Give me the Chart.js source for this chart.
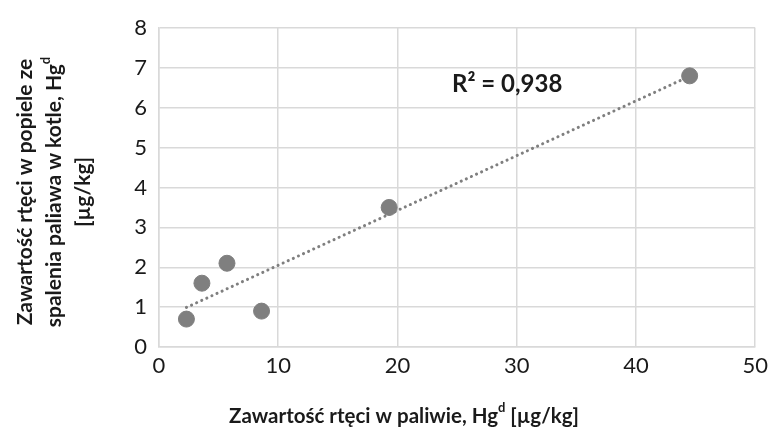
<!DOCTYPE html>
<html>
<head>
<meta charset="utf-8">
<script src="https://cdn.jsdelivr.net/npm/chart.js@4.4.0/dist/chart.umd.min.js"></script>
<style>
  html, body { margin: 0; padding: 0; background: #fff; }
  #wrap { width: 774px; height: 432px; }
</style>
</head>
<body>
<div id="wrap"><canvas id="myChart"></canvas></div>
<script>
// values
const hgFuel = [2.3, 3.6, 5.7, 8.6, 19.3, 44.5];   // x, µg/kg
const hgAsh = [0.7, 1.6, 2.1, 0.9, 3.5, 6.8];      // y, µg/kg
const xTicks = [0, 10, 20, 30, 40, 50];
const yTicks = [0, 1, 2, 3, 4, 5, 6, 7, 8];
const r2Label = 'R\u00B2 = 0,938';
const xTitle = [['Zawartość rtęci w paliwie, Hg', false], ['d', true], [' [µg/kg]', false]];
const yTitle = [
    [['Zawartość rtęci w popiele ze', false]],
    [['spalenia paliawa w kotle, Hg', false], ['d', true]],
    [['[µg/kg]', false]]
];

const FONT = 'Lato, "Open Sans", sans-serif';

// Excel-style linear trendline between min and max x
const fitLine = (xs, ys) => {
    const n = xs.length;
    const mx = xs.reduce((a, b) => a + b, 0) / n;
    const my = ys.reduce((a, b) => a + b, 0) / n;
    let sxy = 0, sxx = 0;
    xs.forEach((x, i) => { sxy += (x - mx) * (ys[i] - my); sxx += (x - mx) * (x - mx); });
    const k = sxy / sxx;
    const b = my - k * mx;
    const x0 = Math.min(...xs), x1 = Math.max(...xs);
    return [{ x: x0, y: k * x0 + b }, { x: x1, y: k * x1 + b }];
};

const drawRich = (c, parts, cx, cy, size) => {
    const main = 'bold ' + size + 'px ' + FONT;
    const sup = 'bold ' + Math.round(size * 0.62) + 'px ' + FONT;
    let w = 0;
    parts.forEach(([t, s]) => { c.font = s ? sup : main; w += c.measureText(t).width; });
    let x = cx - w / 2;
    parts.forEach(([t, s]) => {
        c.font = s ? sup : main;
        c.fillText(t, x, s ? cy - size * 0.38 : cy);
        x += c.measureText(t).width;
    });
};

const titlesPlugin = {
    id: 'titles',
    afterDraw(chart) {
        const c = chart.ctx;
        const { x, y } = chart.scales;
        c.save();
        c.fillStyle = '#1a1a1a';
        c.textBaseline = 'middle';
        c.textAlign = 'left';
        drawRich(c, xTitle, 404, 416, 20.5);

        c.save();
        c.translate(54, 192);
        c.rotate(-Math.PI / 2);
        yTitle.forEach((line, i) => drawRich(c, line, 0, (i - 1) * 29, 21));
        c.restore();

        c.font = 'bold 24px ' + FONT;
        c.textAlign = 'center';
        c.fillText(r2Label, x.getPixelForValue(29.2), y.getPixelForValue(6.6));
        c.restore();
    }
};

new Chart(document.getElementById('myChart'), {
    type: 'scatter',
    data: {
        datasets: [{
            label: 'Hg',
            data: hgFuel.map((v, i) => ({ x: v, y: hgAsh[i] })),
            backgroundColor: '#7f7f7f',
            borderColor: '#7f7f7f',
            pointRadius: 8,
            pointHoverRadius: 8,
            order: 1
        }, {
            label: 'Trend',
            type: 'line',
            data: fitLine(hgFuel, hgAsh),
            borderColor: '#7f7f7f',
            borderWidth: 3,
            borderDash: [0.1, 5.5],
            borderCapStyle: 'round',
            pointRadius: 0,
            fill: false,
            order: 2
        }]
    },
    options: {
        responsive: true,
        maintainAspectRatio: false,
        animation: false,
        layout: { padding: { top: 28, right: 15, left: 0, bottom: 0 } },
        plugins: {
            legend: { display: false },
            tooltip: { enabled: false }
        },
        scales: {
            x: {
                type: 'linear',
                min: xTicks[0],
                max: xTicks[xTicks.length - 1],
                afterBuildTicks: (s) => { s.ticks = xTicks.map(v => ({ value: v })); },
                afterFit: (s) => { s.height = 85; },
                grid: { color: '#d9d9d9', lineWidth: 1.5, drawTicks: false },
                border: { color: '#d9d9d9', width: 1.5 },
                ticks: { color: '#1a1a1a', font: { family: FONT, size: 22 }, padding: 6 }
            },
            y: {
                type: 'linear',
                min: yTicks[0],
                max: yTicks[yTicks.length - 1],
                afterBuildTicks: (s) => { s.ticks = yTicks.map(v => ({ value: v })); },
                afterFit: (s) => { s.width = 159; },
                grid: { color: '#d9d9d9', lineWidth: 1.5, drawTicks: false },
                border: { color: '#d9d9d9', width: 1.5 },
                ticks: { color: '#1a1a1a', font: { family: FONT, size: 22 }, padding: 12 }
            }
        }
    },
    plugins: [titlesPlugin]
});
</script>
</body>
</html>
